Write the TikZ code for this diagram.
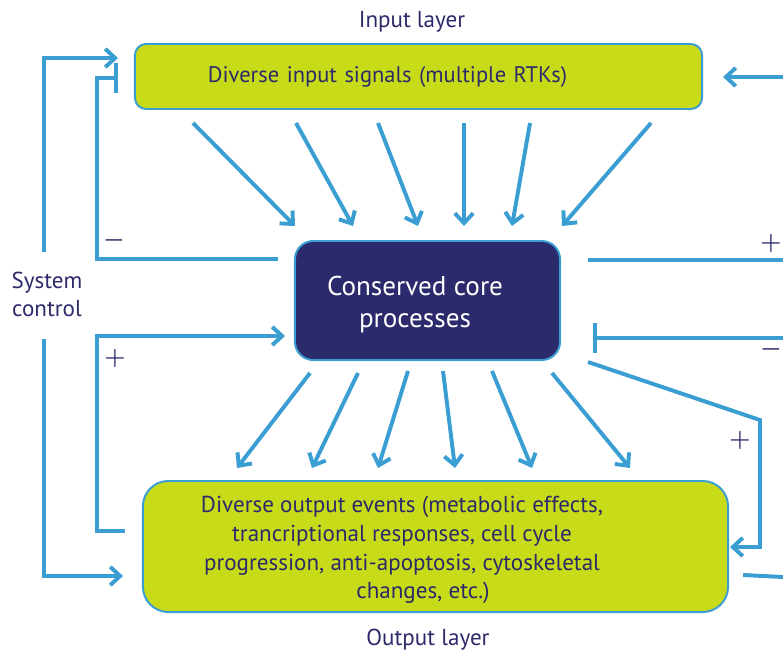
\documentclass[tikz,border=0pt]{standalone}
\usepackage{fontspec}
\setmainfont{PT Sans}
\usetikzlibrary{arrows.meta,positioning}
\definecolor{LayerLime}{HTML}{C8DB18}
\definecolor{LinkBlue}{HTML}{3A9ED2}
\definecolor{CoreNavy}{HTML}{2B2A6C}
\definecolor{InkNavy}{HTML}{2D2A6A}

\tikzset{
  layerbox/.style={draw=LinkBlue,line width=1.4pt,fill=LayerLime,text=InkNavy},
  corebox/.style={draw=LinkBlue,line width=1.4pt,fill=CoreNavy,rounded corners=13pt},
  flow/.style={LinkBlue,line width=2.8pt,-{Straight Barb[length=7pt,width=13pt]}},
  block/.style={LinkBlue,line width=2.8pt,-{Bar[width=21pt]}},
  link/.style={LinkBlue,line width=2.8pt},
  sign/.style={text=InkNavy,inner sep=0pt,font=\fontsize{18}{18}\selectfont\boldmath},
  caption/.style={text=InkNavy,font=\fontsize{16.4}{20}\selectfont},
}

\begin{document}
\begin{tikzpicture}[x=0.025cm,y=-0.025cm]
  \useasboundingbox (0,0) rectangle (783,653);

  % the three layers
  \node[layerbox,rounded corners=8pt,minimum height=1.625cm,inner xsep=1.825cm,
        text width=10.525cm,align=left,font=\fontsize{16}{19}\selectfont]
    (input) at (418.5,76.5) {Diverse input signals (multiple RTKs)};
  \node[corebox,minimum width=6.625cm,minimum height=2.975cm] (core) at (427.5,300.5) {};
  \node[text=white,align=center,font=\fontsize{19.3}{22.7}\selectfont]
    (core-text) at (415,305) {Conserved core\\processes};
  \node[layerbox,rounded corners=18pt,minimum width=14.625cm,minimum height=3.275cm]
    (output) at (435.5,546.5) {};
  \node[text=InkNavy,align=center,font=\fontsize{16.4}{20.5}\selectfont] (out-text) at (402,550)
    {Diverse output events (metabolic effects,\\trancriptional responses, cell cycle\\
     progression, anti-apoptosis, cytoskeletal\\\hspace*{1.05cm}changes, etc.)};

  \node[caption] (in-label) at (412,22) {Input layer};
  \node[caption] (out-label) at (428,640) {Output layer};
  \node[caption,align=center] (sys-label) at (47,294) {System\\control};

  % many inputs funnel into the core
  \foreach \xa/\xb [count=\i] in {193/295,296/353,378/418,464/464,530/512,651/562}{
    \coordinate (fan-in-top\i) at (\xa,123);
    \coordinate (fan-in-bot\i) at (\xb,226);
    \draw[flow] (fan-in-top\i) -- (fan-in-bot\i);
  }
  % ... and fan out again to the outputs
  \foreach \xa/\ya/\xb [count=\i] in {310/373/237,358/373/312,408/371/378,443/371/455,492/371/532,552/373/630}{
    \coordinate (fan-out-top\i) at (\xa,\ya);
    \coordinate (fan-out-bot\i) at (\xb,468);
    \draw[flow] (fan-out-top\i) -- (fan-out-bot\i);
  }

  % system control, left side
  \coordinate (sys-top) at (44,252);
  \coordinate (in-ctl) at (118,58);
  \draw[flow] (sys-top) |- (in-ctl);
  \coordinate (sys-bot) at (44,339);
  \coordinate (out-ctl) at (123,576);
  \draw[flow] (sys-bot) |- (out-ctl);

  % feedback loops, left side
  \coordinate (core-neg-l) at (278,259);
  \coordinate (in-neg) at (118,78);
  \draw[block] (core-neg-l) -- ++(-181,0) |- (in-neg);
  \coordinate (out-pos-l) at (125,531);
  \coordinate (core-pos-l) at (285,336);
  \draw[flow] (out-pos-l) -- ++(-28,0) |- (core-pos-l);
  \node[sign] (neg-l) at (114,240) {$-$};
  \node[sign] (pos-l) at (115,358) {$+$};

  % feedback loops, right side
  \coordinate (edge-in) at (783,77);
  \coordinate (in-pos-r) at (723,77);
  \draw[flow] (edge-in) -- (in-pos-r);
  \coordinate (core-pos-r) at (588,260);
  \coordinate (edge-pos) at (783,260);
  \draw[link] (core-pos-r) -- (edge-pos);
  \coordinate (edge-neg) at (783,338);
  \coordinate (core-neg-r) at (593,338);
  \draw[block] (edge-neg) -- (core-neg-r);
  \coordinate (core-out-r) at (588,362);
  \coordinate (out-pos-r) at (730,547);
  \draw[flow] (core-out-r) -- ++(172,58) |- (out-pos-r);
  \coordinate (out-link-r) at (743,575);
  \coordinate (edge-out) at (783,577);
  \draw[link] (out-link-r) -- (edge-out);
  \node[sign] (pos-r) at (771,243) {$+$};
  \node[sign] (neg-r) at (771,349) {$-$};
  \node[sign] (pos-loop) at (740,440) {$+$};
\end{tikzpicture}
\end{document}
